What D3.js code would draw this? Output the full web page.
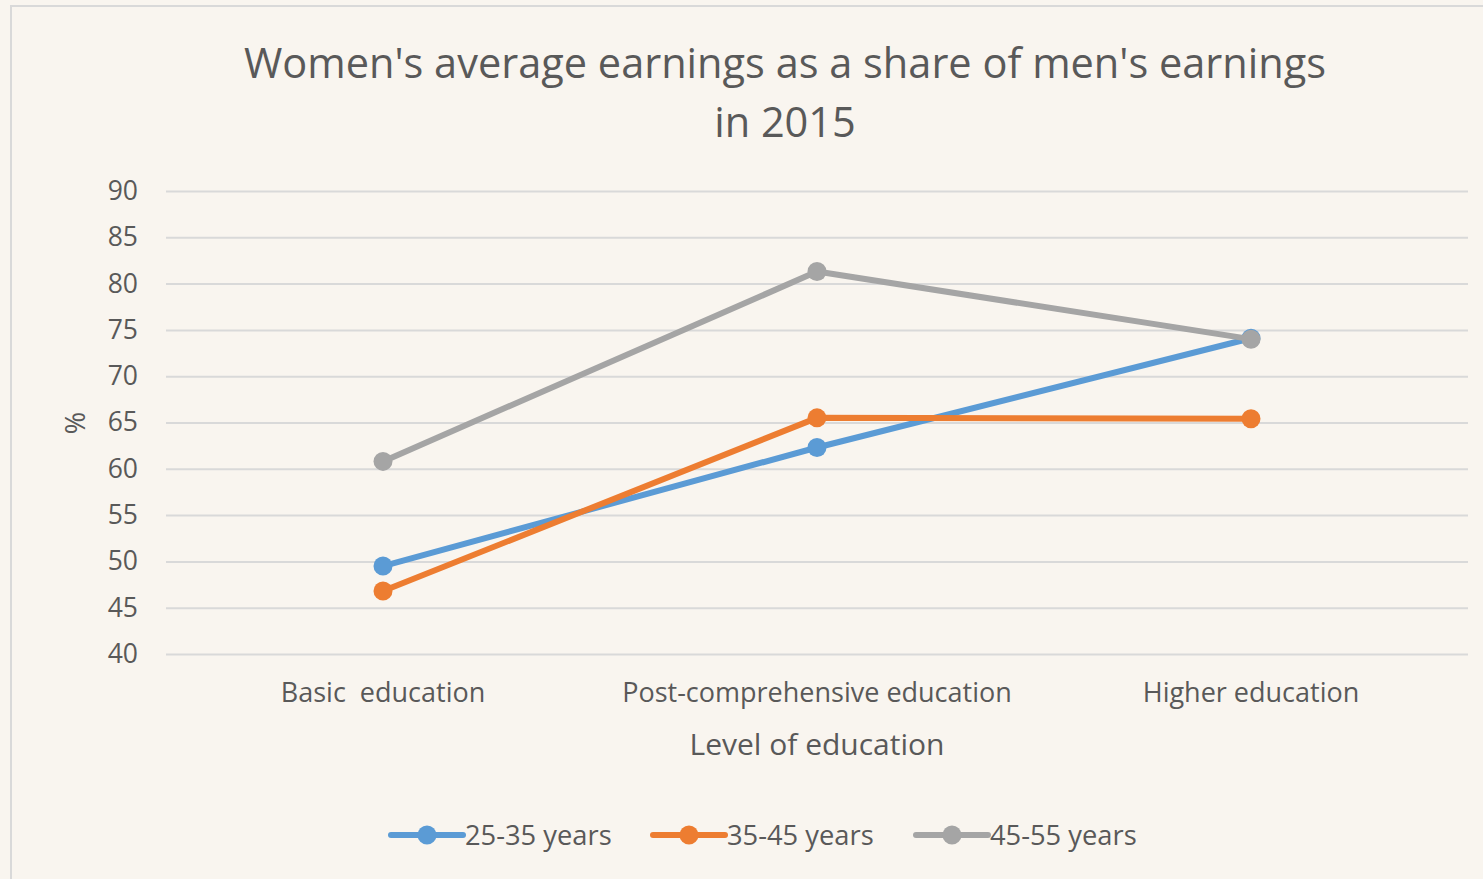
<!DOCTYPE html>
<html>
<head>
<meta charset="utf-8">
<script src="https://cdn.jsdelivr.net/npm/d3@7"></script>
<style>
  html, body { margin: 0; padding: 0; background: #f9f5ef; }
  svg { display: block; font-family: "Open Sans", "Noto Sans", sans-serif; }
</style>
</head>
<body>
<div id="plot"></div>
<script>
// data
var categories = ["Basic  education", "Post-comprehensive education", "Higher education"];
var seriesNames = ["25-35 years", "35-45 years", "45-55 years"];
var seriesColors = ["#5b9bd5", "#ed7d31", "#a5a5a5"];
var values2535 = [49.5, 62.3, 74.1];
var values3545 = [46.8, 65.5, 65.4];
var values4555 = [60.8, 81.3, 74.0];
var yTicks = [40, 45, 50, 55, 60, 65, 70, 75, 80, 85, 90];

var series = [values2535, values3545, values4555];

var svgWidth = 1483, svgHeight = 879;
var margin = { top: 191, right: 15, bottom: 225, left: 166 };
var width = svgWidth - margin.left - margin.right;
var height = svgHeight - margin.top - margin.bottom;
var fontFam = '"Open Sans", "Noto Sans", sans-serif';

var svg = d3.select("#plot").append("svg")
    .attr("width", svgWidth)
    .attr("height", svgHeight);

// chart frame
svg.append("rect")
    .attr("x", 11).attr("y", 6)
    .attr("width", svgWidth + 10).attr("height", svgHeight + 10)
    .attr("fill", "#f9f5ef")
    .attr("stroke", "#d9d9d9")
    .attr("stroke-width", 2);

var chartGroup = svg.append("g")
    .attr("transform", `translate(${margin.left}, ${margin.top})`);

// scales
var xScale = d3.scaleBand().domain(categories).range([0, width]);
var yScale = d3.scaleLinear().domain([40, 90]).range([height, 0]);

// gridlines + y axis labels
var yAxis = d3.axisLeft(yScale).tickValues(yTicks).tickSize(-width).tickPadding(28);
var yG = chartGroup.append("g").call(yAxis).attr("font-family", fontFam);
yG.select(".domain").remove();
yG.selectAll(".tick line").attr("stroke", "#d9d9d9").attr("stroke-width", 2);
yG.selectAll(".tick text").attr("fill", "#595959").attr("font-size", "26.5px");

// x axis labels
var xAxis = d3.axisBottom(xScale).tickSize(0).tickPadding(29);
var xG = chartGroup.append("g").attr("transform", `translate(0, ${height})`).call(xAxis)
    .attr("font-family", fontFam);
xG.select(".domain").remove();
xG.selectAll(".tick text").attr("fill", "#595959").attr("font-size", "27px")
    .style("white-space", "pre");

// lines
var lineGen = d3.line()
    .x((d, i) => xScale(categories[i]) + xScale.bandwidth() / 2)
    .y(d => yScale(d));

series.forEach(function (vals, s) {
    chartGroup.append("path")
        .attr("d", lineGen(vals))
        .attr("fill", "none")
        .attr("stroke", seriesColors[s])
        .attr("stroke-width", 6)
        .attr("stroke-linejoin", "round");
    chartGroup.selectAll(".pt" + s)
        .data(vals)
        .enter()
        .append("circle")
        .attr("cx", (d, i) => xScale(categories[i]) + xScale.bandwidth() / 2)
        .attr("cy", d => yScale(d))
        .attr("r", 9.5)
        .attr("fill", seriesColors[s]);
});

// titles
var title = svg.append("text")
    .attr("text-anchor", "middle")
    .attr("fill", "#595959")
    .attr("font-size", "41.5px");
title.append("tspan").attr("x", 785).attr("y", 78).text("Women's average earnings as a share of men's earnings");
title.append("tspan").attr("x", 785).attr("y", 137).text("in 2015");

svg.append("text")
    .attr("x", 817).attr("y", 755)
    .attr("text-anchor", "middle")
    .attr("fill", "#595959")
    .attr("font-size", "30px")
    .text("Level of education");

svg.append("text")
    .attr("transform", "translate(85, 423) rotate(-90)")
    .attr("text-anchor", "middle")
    .attr("fill", "#595959")
    .attr("font-size", "27px")
    .text("%");

// legend
var legendX = [391, 653, 916];
seriesNames.forEach(function (name, s) {
    var g = svg.append("g").attr("transform", `translate(${legendX[s]}, 835)`);
    g.append("line").attr("x1", 0).attr("x2", 72).attr("y1", 0).attr("y2", 0)
        .attr("stroke", seriesColors[s]).attr("stroke-width", 6).attr("stroke-linecap", "round");
    g.append("circle").attr("cx", 36).attr("cy", 0).attr("r", 9.5).attr("fill", seriesColors[s]);
    g.append("text").attr("x", 74).attr("y", 10)
        .attr("fill", "#595959").attr("font-size", "27.3px").text(name);
});
</script>
</body>
</html>
